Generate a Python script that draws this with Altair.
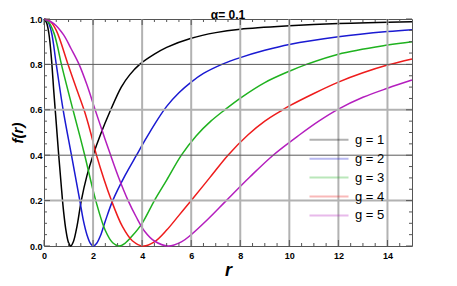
import altair as alt
import pandas as pd

# ---- data ----
title_text = "α= 0.1"
series = ["g = 1", "g = 2", "g = 3", "g = 4", "g = 5"]
colors = ["#000000", "#1a1ad2", "#1fb21f", "#ee1c1c", "#b41ebe"]

r_g1 = [0, 0.1, 0.2, 0.3, 0.4, 0.5, 0.6, 0.7, 0.8, 0.9, 1.0, 1.09, 1.2, 1.35, 1.52, 1.75, 2.0, 2.3, 2.68, 3.15, 3.5, 3.9, 4.5, 5.0, 6.0, 7.0, 8.0, 10.0, 12.0, 15.0]
f_g1 = [1.0, 0.985, 0.935, 0.83, 0.68, 0.54, 0.4, 0.27, 0.15, 0.065, 0.015, 0.0, 0.02, 0.09, 0.2, 0.31, 0.4, 0.49, 0.59, 0.7, 0.755, 0.8, 0.845, 0.875, 0.915, 0.94, 0.955, 0.97, 0.98, 0.988]

r_g2 = [0, 0.15, 0.3, 0.5, 0.78, 1.12, 1.46, 1.6, 1.75, 1.9, 2.02, 2.15, 2.3, 2.5, 2.8, 3.3, 3.77, 4.06, 4.5, 5.0, 5.5, 6.0, 6.5, 7.25, 8.0, 9.0, 10.0, 12.0, 14.0, 15.0]
f_g2 = [1.0, 0.99, 0.944, 0.8, 0.6, 0.4, 0.2, 0.115, 0.05, 0.01, 0.0, 0.012, 0.045, 0.11, 0.2, 0.31, 0.4, 0.455, 0.535, 0.615, 0.675, 0.722, 0.76, 0.8, 0.83, 0.862, 0.888, 0.922, 0.945, 0.953]

r_g3 = [0, 0.2, 0.4, 0.55, 0.71, 1.18, 1.46, 1.66, 2.11, 2.5, 2.8, 3.05, 3.3, 3.6, 4.0, 4.5, 5.0, 5.6, 6.2, 6.8, 7.37, 8.05, 9.0, 10.0, 10.7, 12.0, 14.0, 15.0]
f_g3 = [1.0, 0.985, 0.94, 0.88, 0.8, 0.6, 0.485, 0.4, 0.2, 0.068, 0.014, 0.0, 0.012, 0.045, 0.1, 0.2, 0.29, 0.4, 0.485, 0.55, 0.6, 0.655, 0.72, 0.77, 0.8, 0.845, 0.885, 0.9]

r_g4 = [0, 0.25, 0.5, 0.98, 1.3, 1.66, 1.9, 2.14, 2.75, 3.2, 3.6, 4.04, 4.5, 5.0, 5.5, 6.0, 6.75, 7.5, 8.32, 9.0, 9.61, 10.0, 11.0, 12.0, 13.0, 14.0, 15.0]
f_g4 = [1.0, 0.99, 0.95, 0.8, 0.7, 0.59, 0.5, 0.4, 0.2, 0.085, 0.023, 0.0, 0.018, 0.07, 0.135, 0.2, 0.3, 0.4, 0.49, 0.55, 0.592, 0.617, 0.672, 0.722, 0.763, 0.797, 0.824]

r_g5 = [0, 0.4, 0.8, 1.1, 1.43, 1.75, 2.07, 2.38, 2.7, 3.05, 3.43, 3.75, 4.1, 4.5, 5.06, 5.6, 6.0, 6.7, 7.43, 8.4, 9.34, 10.42, 11.2, 12.0, 13.0, 14.0, 15.0]
f_g5 = [1.0, 0.98, 0.93, 0.87, 0.8, 0.71, 0.605, 0.505, 0.405, 0.3, 0.2, 0.13, 0.065, 0.022, 0.0, 0.018, 0.05, 0.12, 0.2, 0.305, 0.4, 0.49, 0.55, 0.603, 0.655, 0.695, 0.731]

x_major = [0, 2, 4, 6, 8, 10, 12, 14]
x_minor = [0.5, 1, 1.5, 2.5, 3, 3.5, 4.5, 5, 5.5, 6.5, 7, 7.5, 8.5, 9, 9.5, 10.5, 11, 11.5, 12.5, 13, 13.5, 14.5]
y_major = [0.0, 0.2, 0.4, 0.6, 0.8, 1.0]
y_minor = [0.05, 0.1, 0.15, 0.25, 0.3, 0.35, 0.45, 0.5, 0.55, 0.65, 0.7, 0.75, 0.85, 0.9, 0.95]
grid_x = [2, 4, 6, 8, 10, 12, 14]
grid_y_light = [0.2, 0.6]
grid_y_dark = [0.4, 0.8]

rows = []
for name, rs, fs in zip(series, [r_g1, r_g2, r_g3, r_g4, r_g5], [f_g1, f_g2, f_g3, f_g4, f_g5]):
    for r, f in zip(rs, fs):
        rows.append({"g": name, "r": r, "f": f})
df = pd.DataFrame(rows)

W, H = 368, 227
FONT = "Liberation Sans"
xs = alt.Scale(domain=[0, 15], nice=False, zero=False)
ys = alt.Scale(domain=[0, 1], nice=False, zero=False)

XAX = alt.Axis(
    values=x_major, format="d", title="r", titleFont=FONT, titleFontSize=18,
    titleFontStyle="italic", titleFontWeight="bold", titleColor="black", titlePadding=1,
    labelFont=FONT, labelFontSize=9, labelFontWeight="bold", labelColor="black",
    labelPadding=5, labelFlush=False, labelOverlap=False,
    ticks=False, domain=False, grid=False)
YAX = alt.Axis(
    values=y_major, format=".1f", title="f(r)", titleFont=FONT, titleFontSize=15,
    titleFontStyle="italic", titleFontWeight="bold", titleColor="black", titlePadding=3.5,
    labelFont=FONT, labelFontSize=9, labelFontWeight="bold", labelColor="black",
    labelPadding=2, labelFlush=False, labelOverlap=False,
    ticks=False, domain=False, grid=False)


def vals(v):
    return pd.DataFrame({"v": v})


def X(field):
    return alt.X(field, type="quantitative", scale=xs, axis=XAX, title="r")


def Y(field):
    return alt.Y(field, type="quantitative", scale=ys, axis=YAX, title="f(r)")


curves = alt.Chart(df).mark_line(strokeWidth=1.5, interpolate="catmull-rom").encode(
    x=X("r"),
    y=Y("f"),
    color=alt.Color("g:N", scale=alt.Scale(domain=series, range=colors), legend=alt.Legend(
        title=None, orient="none", legendX=293, legendY=114.3, padding=0,
        symbolType="M-6.8,0H1", symbolSize=100, symbolStrokeWidth=2, symbolOpacity=0.3,
        symbolFillColor="transparent",
        labelFont=FONT, labelFontSize=13, labelColor="black", labelOffset=5,
        rowPadding=4.9)),
)

gx = alt.Chart(vals(grid_x)).mark_rule(color="#b2b2b2", strokeWidth=2).encode(x=X("v"))
gyl = alt.Chart(vals(grid_y_light)).mark_rule(color="#b2b2b2", strokeWidth=2).encode(y=Y("v"))
gyd = alt.Chart(vals(grid_y_dark)).mark_rule(color="#5a5a5a", strokeWidth=1).encode(y=Y("v"))


def xticks(v, length, top):
    return alt.Chart(vals(v)).mark_rule(color="#555555", strokeWidth=1).encode(
        x=X("v"),
        y=alt.value(0 if top else H),
        y2=alt.value(length if top else H - length))


def yticks(v, length, left):
    return alt.Chart(vals(v)).mark_rule(color="#555555", strokeWidth=1).encode(
        y=Y("v"),
        x=alt.value(0 if left else W),
        x2=alt.value(length if left else W - length))


ticks = [
    xticks(x_major, 6, True), xticks(x_major, 6, False),
    xticks(x_minor, 3, True), xticks(x_minor, 3, False),
    yticks(y_major, 6, True), yticks(y_major, 6, False),
    yticks(y_minor, 3, True), yticks(y_minor, 3, False),
]

title = alt.Chart(pd.DataFrame({"t": [title_text]})).mark_text(
    font=FONT, fontSize=12, fontWeight="bold", color="black",
    align="center", baseline="alphabetic").encode(
    text="t:N", x=alt.value(W / 2), y=alt.value(-0.3))

chart = alt.layer(curves, gx, gyl, gyd, *ticks, title).properties(
    width=W, height=H,
    padding={"left": 36, "top": 11, "right": 30, "bottom": 36},
    autosize=alt.AutoSizeParams(type="none"),
).configure_view(stroke="#555555", strokeWidth=1)

chart.save("out.html", embed_options={"renderer": "svg", "actions": False})
